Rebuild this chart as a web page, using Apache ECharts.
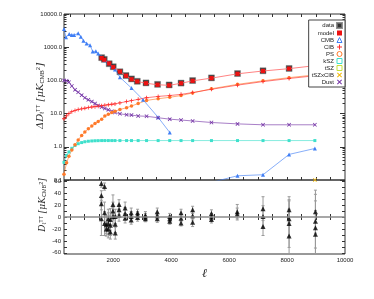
<!DOCTYPE html>
<html><head><meta charset="utf-8">
<script src="https://cdn.jsdelivr.net/npm/echarts@6/dist/echarts.min.js"></script>
<style>html,body{margin:0;padding:0;background:#fff}#c{width:374px;height:299px}</style>
</head><body><div id="c"></div>
<script>
// ---- data ----
const ellData = [1600, 1690, 1860, 2000, 2230, 2440, 2630, 2830, 3130, 3530, 3930, 4340, 4740, 5390, 6290, 7170, 8070, 8960];
const dataVals = [485, 431, 318, 258, 182, 140, 111, 94, 84, 76, 73, 83, 99, 119, 161, 195, 229, 282];
const modelVals = [470, 420, 325, 250, 185, 138, 108, 93, 82, 74, 71, 82, 97, 117, 158, 192, 226, 278];

const ellCMB = [300, 370, 480, 570, 650, 790, 880, 970, 1080, 1200, 1290, 1400, 1480, 1600, 1710, 1830, 1950, 2060, 2230, 2630, 3030, 3550, 3950, 4340, 4740, 5390, 6290, 7170, 8070, 8960];
const cmbVals = [3540, 1980, 2490, 2320, 2320, 2620, 2060, 1560, 1300, 1150, 740, 755, 643, 506, 402, 342, 269, 213, 124, 59, 26, 7.7, 2.7, null, null, 0.085, 0.134, 0.144, 0.59, 0.89];

const ellFg = [300, 390, 470, 570, 680, 790, 910, 1020, 1140, 1260, 1370, 1480, 1600, 1710, 1830, 1950, 2060, 2230, 2460, 2630, 2860, 3150, 3550, 3950, 4340, 4740, 5390, 6290, 7170, 8070, 8960];
const cibVals = [7.0, 8.5, 10, 11.4, 12.5, 13.2, 13.9, 14.5, 15.2, 15.8, 16.2, 16.7, 17.3, 17.9, 18.5, 19.1, 19.6, 21, 23, 24.5, 27, 30, 33, 35, 38, 43, 54, 72, 92, 114, 138];
const psVals = [0.15, 0.33, 0.52, 0.8, 1.15, 1.6, 2.2, 2.8, 3.5, 4.2, 5.0, 5.8, 6.8, 8.4, 9.6, 10.8, 11.8, 13.3, 15, 17, 20, 25, 28, 31, 35, 42, 56, 76, 97, 121, 146];
const kszVals = [0.34, 0.55, 0.7, 0.9, 1.1, 1.24, 1.34, 1.42, 1.47, 1.5, 1.52, 1.53, 1.54, 1.54, 1.54, 1.54, 1.54, 1.54, 1.54, 1.54, 1.54, 1.54, 1.54, 1.54, 1.54, 1.54, 1.54, 1.54, 1.54, 1.54, 1.54];
const dustVals = [100, 98, 88, 68, 52, 44, 36, 30, 26, 23, 20, 17.5, 15.7, 14.3, 13, 11.8, 10.8, 9.9, 9.2, 9.0, 8.5, 8.3, 7.5, 6.8, 6.4, 6.0, 5.4, 4.9, 4.6, 4.6, 4.6];
const ellTszCib = [8960];
const tszCibVals = [0.1];
const ellTsz = [];
const tszVals = [];

const ellRes = [1590,1590,1590,1590, 1700,1700,1700, 1760,1760, 1830,1830,1830, 1900,1900,1900, 1990,1990,1990, 2070,2070,2070, 2200,2200,2200, 2410,2410,2410, 2620,2620,2620, 2840,2840,2840, 3110,3110,3110, 3520,3520,3520, 3950,3950,3950, 4340,4340,4340, 4740,4740,4740, 5390,5390,5390, 6280,6280, 7170,7170,7170, 8070,8070,8070,8070, 8980,8980,8980,8980];
const resVals = [56,36,22,-3, 51,7,-11, -13,-20, -3,-11,-20, -4,-14,-25, 21,10,1, 1,-12,-27, 21,12,3, 15,6,-2, 7,1,-5, 7,3,-1, 3,0,-3, 9,2,-3, 1,-3,-7, 7,-2,-10, 12,2,-9, 6,0,-4, 9,5, 14,1,-16, 12,-3,-11,-32, 9,-7,-18,-29];
const resErrs = [6,8,10,28, 6,18,20, 15,12, 16,18,15, 18,17,12, 16,15,15, 12,14,10, 8,8,10, 10,10,8, 8,8,7, 6,6,6, 6,6,5, 6,5,6, 5,5,5, 6,6,5, 6,7,7, 6,6,6, 12,10, 20,18,15, 22,30,40,45, 36,45,45,40];

const xLabels = [2000, 4000, 6000, 8000, 10000];
const yTopLabels = [0.1, 1, 10, 100, 1000, 10000];
const yResLabels = [-60, -40, -20, 0, 20, 40, 60];

// ---- axis constants ----
const X_MIN = 300, X_MAX = 10000;
const RES_MIN = -62, RES_MAX = 62;
const xTicks = []; for (let v = 500; v < X_MAX; v += 500) xTicks.push(v);
const yMinor = []; yTopLabels.slice(0, -1).forEach(d => { for (let k = 2; k <= 9; k++) yMinor.push(+(d * k).toPrecision(3)); });
const yResTicks = []; for (let v = -60; v <= 60; v += 10) yResTicks.push(v);

const pair = (xs, ys) => xs.map((x, i) => [x, ys[i] === null ? '-' : ys[i]]);
const PLUS = 'path://M4,0h2v4h4v2h-4v4h-2v-4h-4v-2h4z';
const CROSS = 'path://M1.4,0L5,3.6L8.6,0L10,1.4L6.4,5L10,8.6L8.6,10L5,6.4L1.4,10L0,8.6L3.6,5L0,1.4z';

const lblStyle = { fontSize: 6, color: '#222', fontFamily: 'Liberation Sans' };
function xAx(grid, pos, labels) {
  return {
    type: 'value', gridIndex: grid, position: pos, min: X_MIN, max: X_MAX,
    axisLine: { show: false }, splitLine: { show: false },
    axisTick: { show: true, inside: true, length: 3, customValues: xTicks, lineStyle: { color: '#333' } },
    axisLabel: labels ? Object.assign({ show: true, customValues: xLabels, margin: 3, formatter: v => String(v) }, lblStyle) : { show: false }
  };
}
function yLog(pos, major, labels) {
  return {
    type: 'log', logBase: 10, gridIndex: 0, position: pos, min: 0.1, max: 10000,
    axisLine: { show: false }, splitLine: { show: false },
    axisTick: { show: true, inside: true, length: major ? 5 : 2.5, customValues: major ? yTopLabels : yMinor, lineStyle: { color: '#333' } },
    axisLabel: labels ? Object.assign({ show: true, customValues: yTopLabels, margin: 2, formatter: v => Number(v).toFixed(1) }, lblStyle) : { show: false }
  };
}
function yRes(pos, labels) {
  return {
    type: 'value', gridIndex: 1, position: pos, min: RES_MIN, max: RES_MAX,
    axisLine: { show: false }, splitLine: { show: false },
    axisTick: { show: true, inside: true, length: 3, customValues: yResTicks, lineStyle: { color: '#333' } },
    axisLabel: labels ? Object.assign({ show: true, customValues: yResLabels, margin: 3, formatter: v => String(v) }, lblStyle) : { show: false }
  };
}

function errRender(params, api) {
  const x = api.value(0), v = api.value(1), e = api.value(2);
  const lo = Math.max(v - e, RES_MIN), hi = Math.min(v + e, RES_MAX);
  const p1 = api.coord([x, lo]), p2 = api.coord([x, hi]);
  const st = { stroke: '#9a9a9a', lineWidth: 1 };
  const kids = [{ type: 'line', shape: { x1: p1[0], y1: p1[1], x2: p2[0], y2: p2[1] }, style: st }];
  const w = 1.5;
  if (v - e > RES_MIN) kids.push({ type: 'line', shape: { x1: p1[0] - w, y1: p1[1], x2: p1[0] + w, y2: p1[1] }, style: st });
  if (v + e < RES_MAX) kids.push({ type: 'line', shape: { x1: p2[0] - w, y1: p2[1], x2: p2[0] + w, y2: p2[1] }, style: st });
  return { type: 'group', children: kids };
}

const C = { cmb: '#3f7ef5', cib: '#ff2d2d', ps: '#ff7a2a', ksz: '#3fe0cc', tsz: '#c6e23a', tszcib: '#f2b705', dust: '#7433a6', model: '#ee1111', modelLine: '#ff7575' };
function curve(name, xs, ys, color, symbol, size) {
  return {
    name, type: 'line', xAxisIndex: 0, yAxisIndex: 0, data: pair(xs, ys),
    symbol, symbolSize: size, showSymbol: true, connectNulls: false,
    itemStyle: { color }, lineStyle: { color, width: 0.9, opacity: 0.7 }, emphasis: { disabled: true }
  };
}

const chart = echarts.init(document.getElementById('c'), null, { renderer: 'canvas' });
chart.setOption({
  animation: false,
  backgroundColor: '#fff',
  grid: [
    { left: 64, top: 14, width: 281, height: 166, show: true, borderColor: '#333', borderWidth: 1, backgroundColor: 'transparent' },
    { left: 64, top: 180, width: 281, height: 74, show: true, borderColor: '#333', borderWidth: 1, backgroundColor: 'transparent' }
  ],
  xAxis: [
    xAx(0, 'bottom', false), xAx(0, 'top', false),
    Object.assign(xAx(1, 'bottom', true), { name: 'ℓ', nameLocation: 'middle', nameGap: 14, nameTextStyle: { fontSize: 12, fontStyle: 'italic', fontFamily: 'DejaVu Serif', color: '#222' } }),
    xAx(1, 'top', false)
  ],
  yAxis: [
    yLog('left', true, true), yLog('left', false, false), yLog('right', true, false), yLog('right', false, false),
    yRes('left', true), yRes('right', false)
  ],
  legend: {
    orient: 'vertical', right: 29, top: 20, align: 'right',
    itemWidth: 5, itemHeight: 5, itemGap: 1,
    backgroundColor: '#fff', borderColor: '#444', borderWidth: 1, borderRadius: 0, padding: [2, 2, 2, 3],
    textStyle: { fontSize: 6, color: '#222', fontFamily: 'Liberation Sans', lineHeight: 5.5, padding: [0, -2, 0, 0] },
    selectedMode: false,
    data: [
      { name: 'data', icon: 'rect', itemStyle: { color: '#000' } },
      { name: 'model', icon: 'rect', itemStyle: { color: C.model } },
      { name: 'CMB', icon: 'triangle', itemStyle: { color: '#fff', borderColor: C.cmb, borderWidth: 1 } },
      { name: 'CIB', icon: PLUS, itemStyle: { color: C.cib } },
      { name: 'PS', icon: 'circle', itemStyle: { color: '#fff', borderColor: C.ps, borderWidth: 1 } },
      { name: 'kSZ', icon: 'rect', itemStyle: { color: '#fff', borderColor: C.ksz, borderWidth: 1 } },
      { name: 'tSZ', icon: 'rect', itemStyle: { color: '#fff', borderColor: C.tsz, borderWidth: 1 } },
      { name: 'tSZxCIB', icon: CROSS, itemStyle: { color: C.tszcib } },
      { name: 'Dust', icon: CROSS, itemStyle: { color: C.dust } }
    ]
  },
  graphic: [
    { type: 'text', x: 40, y: 96, rotation: Math.PI / 2, z: 10,
      style: { text: 'ΔD{s|ℓ}{u|TT} [μK{s|CMB}{u|2}]', fill: '#333', font: 'italic 10px "DejaVu Serif"', align: 'center', verticalAlign: 'middle',
        rich: { s: { fontSize: 6, verticalAlign: 'bottom', fill: '#333' }, u: { fontSize: 6, verticalAlign: 'top', fill: '#333' } } } },
    { type: 'text', x: 43, y: 205, rotation: Math.PI / 2, z: 10,
      style: { text: 'D{s|ℓ}{u|TT} [μK{s|CMB}{u|2}]', fill: '#333', font: 'italic 9px "DejaVu Serif"', align: 'center', verticalAlign: 'middle',
        rich: { s: { fontSize: 5.5, verticalAlign: 'bottom', fill: '#333' }, u: { fontSize: 5.5, verticalAlign: 'top', fill: '#333' } } } }
  ],
  series: [
    curve('CMB', ellCMB, cmbVals, C.cmb, 'triangle', 4),
    curve('kSZ', ellFg, kszVals, C.ksz, 'rect', 3),
    curve('tSZ', ellTsz, tszVals, C.tsz, 'rect', 3),
    curve('tSZxCIB', ellTszCib, tszCibVals, C.tszcib, CROSS, 4),
    curve('Dust', ellFg, dustVals, C.dust, CROSS, 4),
    curve('PS', ellFg, psVals, C.ps, 'circle', 3.5),
    curve('CIB', ellFg, cibVals, C.cib, PLUS, 4),
    { name: 'data', type: 'scatter', xAxisIndex: 0, yAxisIndex: 0, data: pair(ellData, dataVals), symbol: 'rect', symbolSize: 6,
      itemStyle: { color: '#111', borderColor: '#777', borderWidth: 0.5 }, emphasis: { disabled: true } },
    { name: 'model', type: 'line', xAxisIndex: 0, yAxisIndex: 0, data: pair(ellData, modelVals), symbol: 'rect', symbolSize: 4.2,
      itemStyle: { color: C.model }, lineStyle: { color: C.modelLine, width: 0.9 }, emphasis: { disabled: true } },
    { name: 'resErr', type: 'custom', xAxisIndex: 2, yAxisIndex: 4, renderItem: errRender,
      data: ellRes.map((x, i) => [x, resVals[i], resErrs[i]]), silent: true,
      markLine: { silent: true, symbol: 'none', label: { show: false }, lineStyle: { color: '#8a8a8a', width: 1.5, type: 'solid' }, data: [{ yAxis: 0 }] } },
    { name: 'resid', type: 'scatter', xAxisIndex: 2, yAxisIndex: 4, data: pair(ellRes, resVals), symbol: 'triangle', symbolSize: 5,
      itemStyle: { color: '#000' }, emphasis: { disabled: true } }
  ]
});
</script>
</body></html>
